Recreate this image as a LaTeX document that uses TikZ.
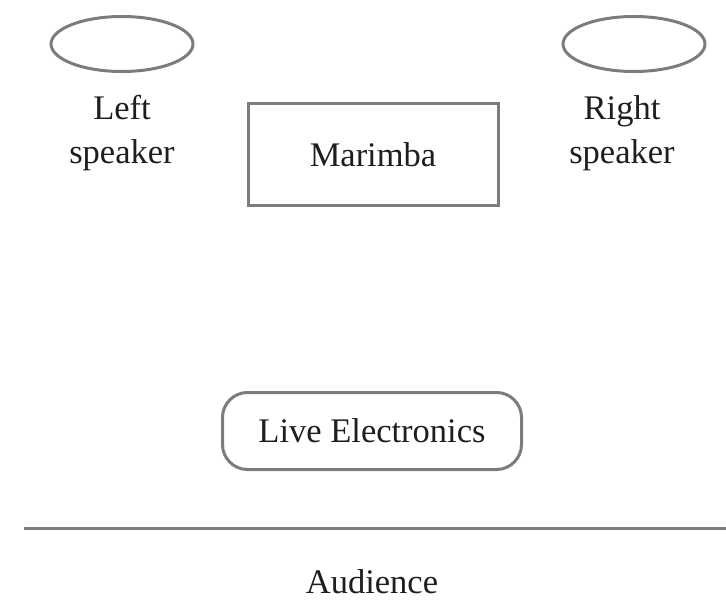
\documentclass[tikz,border=0pt]{standalone}
\usepackage{fontspec}
\setmainfont{Liberation Serif}
\usetikzlibrary{shapes.geometric}
\definecolor{linegray}{RGB}{122,124,130}
\definecolor{textgray}{RGB}{30,30,30}
\begin{document}
\begin{tikzpicture}[x=1pt,y=-1pt,
  outl/.style={draw=linegray,line width=3pt},
  lbl/.style={text=textgray,font=\fontsize{34.5}{44}\selectfont,inner sep=0pt,align=center},
  spk/.style={outl,ellipse,minimum width=142pt,minimum height=55pt,inner sep=0pt},
  box/.style={outl,rectangle,minimum width=250pt,minimum height=102pt,inner sep=0pt},
  rbox/.style={outl,rectangle,rounded corners=25pt,minimum width=299pt,minimum height=77pt,inner sep=0pt}]
\useasboundingbox (0,0) rectangle (726,600);
\node[spk] (ls) at (122,44) {};
\node[spk] (rs) at (634,44) {};
\node[lbl] (lst) at (122,133) {Left\\speaker};
\node[lbl] (rst) at (622,133) {Right\\speaker};
\node[box,lbl] (mar) at (373,154.5) {\raisebox{-3pt}{Marimba}};
\node[rbox,lbl] (live) at (372,431) {\raisebox{-1pt}{Live Electronics}};
\coordinate (la) at (24,528);
\coordinate (lb) at (726,528);
\draw[linegray,line width=3pt] (la) -- (lb);
\node[lbl] (aud) at (372,582) {Audience};
\end{tikzpicture}
\end{document}
